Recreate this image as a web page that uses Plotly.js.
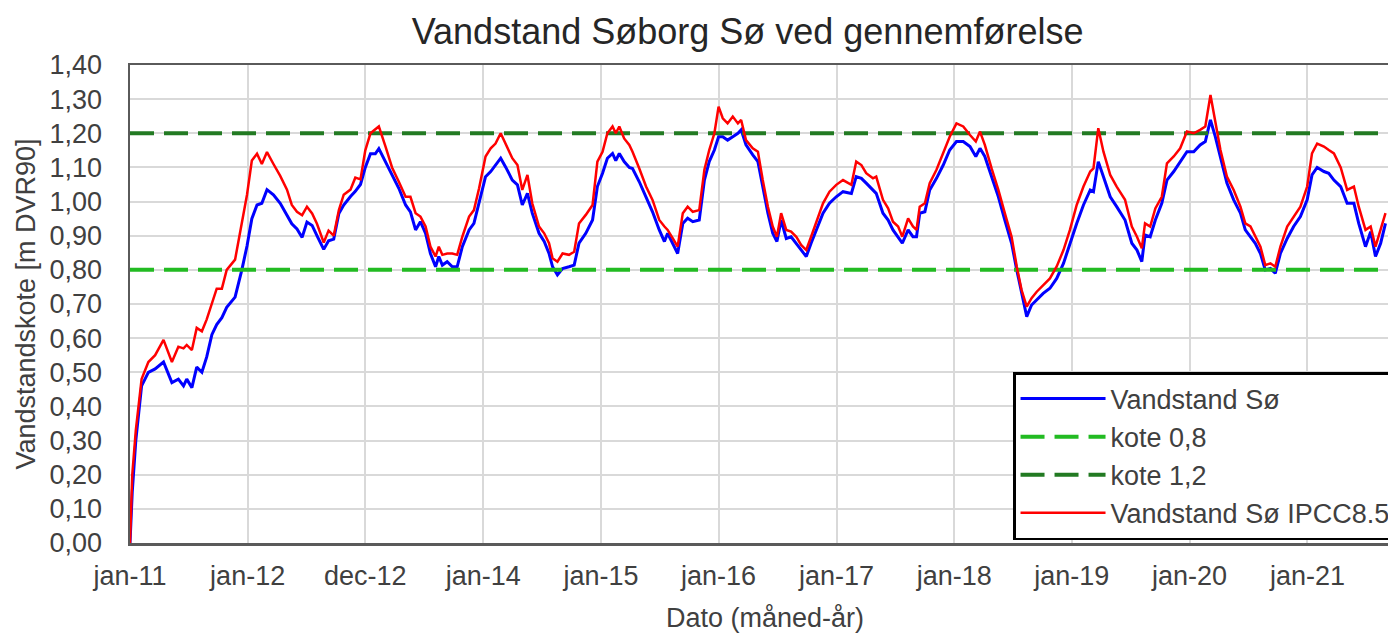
<!DOCTYPE html>
<html>
<head>
<meta charset="utf-8">
<script src="https://cdn.plot.ly/plotly-3.0.1.min.js"></script>
<style>
  html, body { margin: 0; padding: 0; overflow: hidden; background: #fff; }
  #grafico { width: 1400px; height: 637px; }
</style>
</head>
<body>
<div id="grafico"></div>
<script>
// datoer og vandstande
const datoer = [
  '2011-01-01','2011-01-08','2011-01-19','2011-02-06','2011-02-27','2011-03-20','2011-04-15','2011-05-11',
  '2011-05-31','2011-06-16','2011-06-26','2011-07-12','2011-07-27','2011-08-12','2011-08-27','2011-09-12',
  '2011-09-27','2011-10-13','2011-10-28','2011-11-23','2011-12-14','2011-12-30',
  '2012-01-14','2012-01-30','2012-02-14','2012-03-01','2012-03-21','2012-04-11','2012-05-02','2012-05-17',
  '2012-06-02','2012-06-18','2012-07-03','2012-07-19','2012-08-03','2012-08-24','2012-09-08','2012-09-24',
  '2012-10-10','2012-10-25','2012-11-15','2012-11-30','2012-12-16','2012-12-31',
  '2013-01-16','2013-01-31','2013-02-11','2013-03-04','2013-03-24','2013-04-14','2013-05-05','2013-05-20',
  '2013-06-05','2013-06-20','2013-07-06','2013-07-21','2013-08-06','2013-08-16','2013-08-27','2013-09-11',
  '2013-09-27','2013-10-12','2013-10-28','2013-11-18','2013-12-03','2013-12-19',
  '2014-01-08','2014-01-24','2014-02-08','2014-02-24','2014-03-12','2014-04-01','2014-04-17','2014-05-02',
  '2014-05-18','2014-06-02','2014-06-23','2014-07-09','2014-07-24','2014-08-04','2014-08-19','2014-09-04',
  '2014-09-24','2014-10-10','2014-10-25','2014-11-15','2014-12-06','2014-12-21',
  '2015-01-06','2015-01-21','2015-02-06','2015-02-16','2015-02-27','2015-03-14','2015-03-30','2015-04-09',
  '2015-04-30','2015-05-21','2015-06-10','2015-07-01','2015-07-17','2015-07-27','2015-08-12','2015-08-27',
  '2015-09-12','2015-09-27','2015-10-13','2015-11-02','2015-11-18','2015-12-03','2015-12-19',
  '2016-01-01','2016-01-14','2016-01-29','2016-02-14','2016-03-01','2016-03-11','2016-03-26','2016-04-16',
  '2016-05-02','2016-05-17','2016-06-02','2016-06-17','2016-06-30','2016-07-13','2016-07-29','2016-08-13',
  '2016-08-29','2016-09-13','2016-09-29','2016-10-14','2016-10-30','2016-11-20','2016-12-10','2016-12-31',
  '2017-01-21','2017-02-16','2017-03-03','2017-03-19','2017-04-03','2017-04-24','2017-05-04','2017-05-25',
  '2017-06-10','2017-06-25','2017-07-11','2017-07-24','2017-08-11','2017-08-26','2017-09-06','2017-09-16',
  '2017-10-02','2017-10-17','2017-11-07','2017-11-28','2017-12-18',
  '2018-01-08','2018-01-29','2018-02-19','2018-03-09','2018-03-22','2018-04-06','2018-04-27','2018-05-18',
  '2018-06-07','2018-06-28','2018-07-14','2018-07-29','2018-08-14','2018-08-29','2018-09-14','2018-10-04',
  '2018-10-25','2018-11-15','2018-12-06','2018-12-26',
  '2019-01-16','2019-02-06','2019-02-27','2019-03-09','2019-03-24','2019-04-09','2019-04-30','2019-05-20',
  '2019-06-15','2019-07-06','2019-07-22','2019-08-06','2019-08-16','2019-09-01','2019-09-17','2019-10-07',
  '2019-10-23','2019-11-13','2019-12-03','2019-12-24',
  '2020-01-14','2020-02-03','2020-02-19','2020-03-06','2020-03-21','2020-04-06','2020-04-26','2020-05-17',
  '2020-06-07','2020-06-22','2020-07-08','2020-07-23','2020-08-08','2020-08-23','2020-09-08','2020-09-23',
  '2020-10-09','2020-10-30','2020-11-19','2020-12-10','2020-12-31',
  '2021-01-15','2021-01-31','2021-02-21','2021-03-08','2021-03-24','2021-04-14','2021-05-04','2021-05-25',
  '2021-06-09','2021-06-30','2021-07-16','2021-07-31','2021-08-16','2021-08-31'
];

const vandstand = [
  0.00,0.15,0.30,0.46,0.50,0.51,0.53,0.47,
  0.48,0.46,0.48,0.455,0.515,0.50,0.545,0.61,
  0.64,0.66,0.69,0.72,0.80,0.87,
  0.95,0.99,0.995,1.035,1.02,0.995,0.96,0.935,
  0.92,0.895,0.94,0.93,0.90,0.86,0.885,0.89,
  0.965,0.99,1.015,1.03,1.05,1.10,
  1.14,1.14,1.155,1.117,1.078,1.039,0.99,0.97,
  0.917,0.941,0.907,0.848,0.809,0.839,0.814,0.824,
  0.809,0.809,0.868,0.917,0.936,0.995,
  1.073,1.088,1.107,1.127,1.10,1.063,1.049,0.99,
  1.024,0.966,0.907,0.883,0.848,0.809,0.785,0.804,
  0.809,0.814,0.878,0.907,0.946,1.044,
  1.083,1.127,1.141,1.12,1.141,1.117,1.10,1.097,
  1.058,1.014,0.97,0.917,0.883,0.907,0.878,0.848,
  0.936,0.951,0.941,0.946,1.063,1.117,1.151,
  1.19,1.19,1.18,1.19,1.20,1.21,1.166,1.137,
  1.117,1.044,0.966,0.907,0.883,0.946,0.892,0.897,
  0.878,0.858,0.839,0.878,0.917,0.966,0.995,1.014,
  1.029,1.024,1.073,1.068,1.054,1.034,1.024,0.966,
  0.946,0.917,0.897,0.878,0.917,0.897,0.897,0.966,
  0.97,1.034,1.068,1.107,1.151,
  1.176,1.176,1.161,1.132,1.156,1.132,1.073,1.014,
  0.946,0.878,0.80,0.731,0.663,0.697,0.711,0.731,
  0.746,0.775,0.819,0.878,
  0.936,0.99,1.034,1.029,1.117,1.073,1.014,0.985,
  0.946,0.878,0.858,0.824,0.902,0.897,0.946,0.995,
  1.063,1.088,1.117,1.146,
  1.146,1.166,1.176,1.239,1.19,1.132,1.054,1.005,
  0.966,0.917,0.897,0.878,0.848,0.80,0.804,0.79,
  0.848,0.892,0.927,0.956,1.005,
  1.078,1.10,1.088,1.083,1.063,1.044,0.995,0.995,
  0.936,0.868,0.912,0.839,0.878,0.936
];

const vandstandIpcc = [
  0.00,0.20,0.33,0.48,0.53,0.55,0.595,0.53,
  0.575,0.57,0.58,0.565,0.63,0.62,0.655,0.70,
  0.745,0.745,0.80,0.83,0.935,1.02,
  1.12,1.14,1.11,1.145,1.11,1.075,1.035,0.99,
  0.97,0.96,0.985,0.965,0.935,0.88,0.915,0.90,
  0.975,1.02,1.035,1.07,1.065,1.15,
  1.20,1.21,1.22,1.16,1.10,1.058,1.014,1.014,
  0.966,0.956,0.927,0.868,0.839,0.868,0.844,0.848,
  0.848,0.844,0.897,0.956,0.975,1.039,
  1.132,1.156,1.17,1.20,1.166,1.127,1.107,1.034,
  1.078,0.995,0.927,0.907,0.878,0.834,0.824,0.848,
  0.844,0.853,0.936,0.961,0.99,1.117,
  1.146,1.20,1.22,1.20,1.22,1.185,1.166,1.146,
  1.097,1.044,1.005,0.946,0.927,0.917,0.892,0.868,
  0.966,0.985,0.97,0.975,1.093,1.151,1.20,
  1.278,1.244,1.229,1.249,1.229,1.239,1.18,1.156,
  1.146,1.063,0.985,0.927,0.897,0.966,0.917,0.912,
  0.897,0.873,0.858,0.897,0.941,0.995,1.029,1.049,
  1.063,1.049,1.117,1.107,1.083,1.068,1.073,1.005,
  0.98,0.941,0.927,0.897,0.951,0.927,0.917,0.985,
  0.995,1.054,1.093,1.141,1.19,
  1.229,1.22,1.195,1.176,1.205,1.166,1.097,1.034,
  0.966,0.897,0.81,0.741,0.692,0.717,0.736,0.756,
  0.775,0.81,0.858,0.917,
  0.99,1.044,1.088,1.097,1.215,1.146,1.078,1.044,
  1.005,0.927,0.897,0.863,0.936,0.927,0.98,1.014,
  1.112,1.132,1.156,1.205,
  1.20,1.21,1.22,1.312,1.229,1.151,1.073,1.034,
  0.985,0.936,0.927,0.897,0.868,0.814,0.819,0.809,
  0.868,0.927,0.956,0.985,1.044,
  1.141,1.17,1.161,1.151,1.141,1.10,1.034,1.044,
  0.985,0.917,0.927,0.868,0.917,0.966
];

// grænsekoter og x-aksens periode
const periode = ['2011-01-01', '2021-10-15'];
const kote08 = [0.8, 0.8];
const kote12 = [1.2, 1.2];

// tekster til x-aksen
const tickDatoer = ['2011-01-01','2012-01-01','2012-12-31','2014-01-01','2015-01-01','2016-01-01',
  '2017-01-01','2018-01-01','2019-01-01','2020-01-01','2021-01-01'];
const tickTekst = ['jan-11','jan-12','dec-12','jan-14','jan-15','jan-16',
  'jan-17','jan-18','jan-19','jan-20','jan-21'];

const fontFamily = '"Liberation Sans", Arial, sans-serif';

const traces = [
  {
    x: datoer, y: vandstand, type: 'scatter', mode: 'lines',
    name: 'Vandstand Sø',
    line: { color: '#0000ff', width: 3 }
  },
  {
    x: periode, y: kote08, type: 'scatter', mode: 'lines',
    name: 'kote 0,8',
    line: { color: '#22bb22', width: 4, dash: '24px,10px' }
  },
  {
    x: periode, y: kote12, type: 'scatter', mode: 'lines',
    name: 'kote 1,2',
    line: { color: '#227a22', width: 4, dash: '24px,10px' }
  },
  {
    x: datoer, y: vandstandIpcc, type: 'scatter', mode: 'lines',
    name: 'Vandstand Sø IPCC8.5',
    line: { color: '#ff0000', width: 2.5 }
  }
];

const layout = {
  width: 1400,
  height: 637,
  margin: { l: 130, r: 0, t: 65, b: 94, autoexpand: false },
  paper_bgcolor: '#ffffff',
  plot_bgcolor: '#ffffff',
  separators: ',.',
  font: { family: fontFamily, size: 27, color: '#404040' },
  hovermode: false,
  title: {
    text: 'Vandstand Søborg Sø ved gennemførelse',
    font: { family: fontFamily, size: 36, color: '#262626' },
    xref: 'container', x: 0.534, xanchor: 'center',
    yref: 'container', y: 0.95, yanchor: 'middle'
  },
  xaxis: {
    type: 'date',
    range: periode,
    tickmode: 'array',
    tickvals: tickDatoer,
    ticktext: tickTekst,
    ticks: '',
    ticklabelstandoff: 7,
    showgrid: true,
    gridcolor: '#d9d9d9',
    gridwidth: 2,
    showline: true,
    linecolor: '#5a5a5a',
    linewidth: 2.5,
    mirror: true,
    zeroline: false,
    title: { text: 'Dato (måned-år)', standoff: 18, font: { size: 27 } }
  },
  yaxis: {
    range: [0, 1.4],
    tick0: 0,
    dtick: 0.1,
    tickformat: '.2f',
    ticks: '',
    ticklabelstandoff: 20,
    showgrid: true,
    gridcolor: '#d9d9d9',
    gridwidth: 2,
    showline: true,
    linecolor: '#5a5a5a',
    linewidth: 2.5,
    mirror: true,
    zeroline: false,
    title: { text: 'Vandstandskote [m DVR90]', standoff: 6, font: { size: 27 } }
  },
  showlegend: true,
  legend: {
    x: 0.6953, xanchor: 'left',
    y: 0.3577, yanchor: 'top',
    bgcolor: '#ffffff',
    bordercolor: '#000000',
    borderwidth: 2.5,
    itemwidth: 85,
    font: { family: fontFamily, size: 27, color: '#404040' }
  }
};

Plotly.newPlot('grafico', traces, layout, { displayModeBar: false, staticPlot: true });
</script>
</body>
</html>
